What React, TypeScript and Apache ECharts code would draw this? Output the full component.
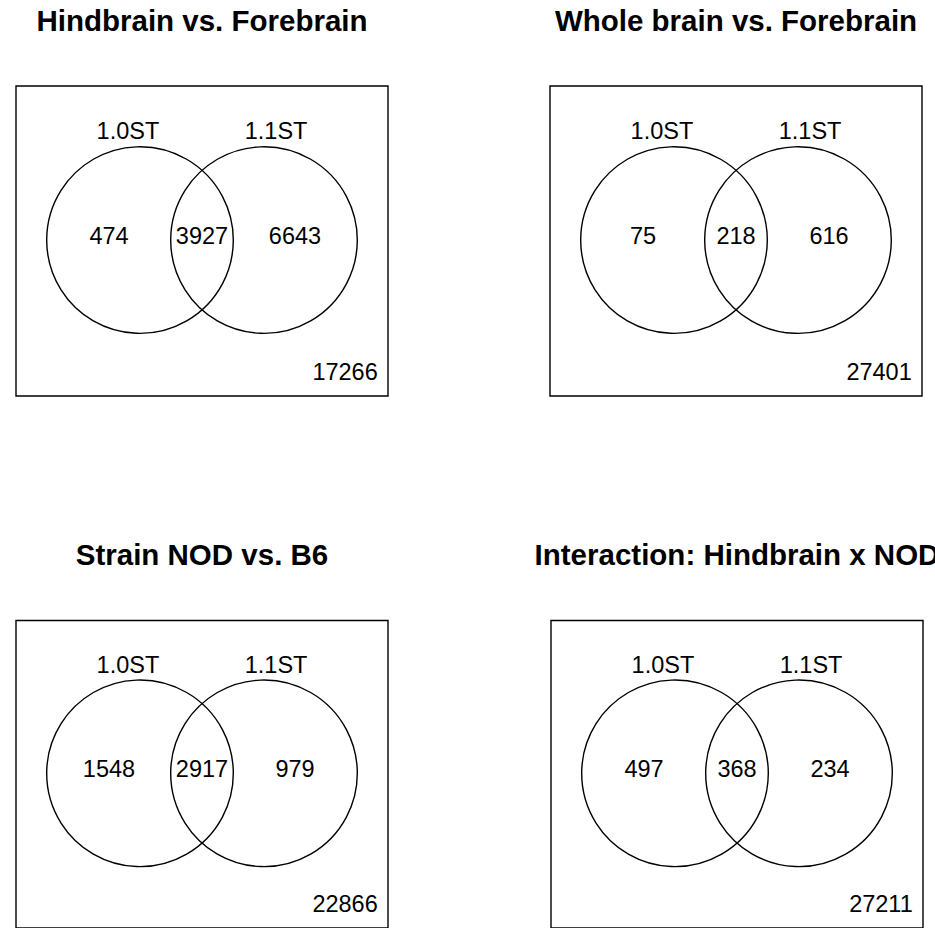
import React, { useEffect, useRef } from "react";
import * as echarts from "echarts";

// ---- Data ----
const titles = [
  "Hindbrain vs. Forebrain",
  "Whole brain vs. Forebrain",
  "Strain NOD vs. B6",
  "Interaction: Hindbrain x NOD",
];
const setNames = ["1.0ST", "1.1ST"];
const only10 = [474, 75, 1548, 497];
const both = [3927, 218, 2917, 368];
const only11 = [6643, 616, 979, 234];
const neither = [17266, 27401, 22866, 27211];

// ---- Layout (venn geometry in panel units: x 0..12, y 0..10) ----
const panelLeft = [16, 550, 16, 551];
const panelTop = [86, 86, 620.5, 620.5];
const panelW = 372;
const panelH = 310;
const circleDefs = [
  [4.0, 5.03, 3.01],
  [8.0, 5.03, 3.01],
];
const setLabelPos = [
  [3.61, 8.55],
  [8.39, 8.55],
];
const countPos = [
  [3.0, 5.16],
  [6.0, 5.16],
  [9.0, 5.16],
  [11.67, 0.78],
];

const FONT = "'Liberation Sans', Arial, Helvetica, sans-serif";

export default function App() {
  const ref = useRef<HTMLDivElement>(null);

  useEffect(() => {
    if (!ref.current) return;
    const chart = echarts.init(ref.current, undefined, { renderer: "svg" });

    const grids: any[] = [];
    const xAxes: any[] = [];
    const yAxes: any[] = [];
    const series: any[] = [];
    const graphics: any[] = [];

    titles.forEach((t, i) => {
      grids.push({
        left: panelLeft[i],
        top: panelTop[i],
        width: panelW,
        height: panelH,
        show: true,
        borderColor: "#000",
        borderWidth: 1.4,
        backgroundColor: "transparent",
        containLabel: false,
      });
      xAxes.push({ type: "value", gridIndex: i, min: 0, max: 12, show: false });
      yAxes.push({ type: "value", gridIndex: i, min: 0, max: 10, show: false });

      graphics.push({
        type: "text",
        x: panelLeft[i] + panelW / 2,
        y: panelTop[i] - 66,
        style: {
          text: t,
          fontSize: 29.5,
          fontWeight: "bold",
          fontFamily: FONT,
          fill: "#000",
          align: "center",
          verticalAlign: "middle",
        },
      });

      series.push({
        type: "custom",
        xAxisIndex: i,
        yAxisIndex: i,
        silent: true,
        data: circleDefs,
        renderItem: (_p: any, api: any) => {
          const c = api.coord([api.value(0), api.value(1)]);
          const r = api.size([api.value(2), 0])[0];
          return {
            type: "circle",
            shape: { cx: c[0], cy: c[1], r },
            style: { fill: "none", stroke: "#000", lineWidth: 1.4 },
          };
        },
      });

      series.push({
        type: "custom",
        xAxisIndex: i,
        yAxisIndex: i,
        silent: true,
        data: setLabelPos.map((p, k) => [p[0], p[1], k]),
        renderItem: (_p: any, api: any) => {
          const c = api.coord([api.value(0), api.value(1)]);
          return {
            type: "text",
            x: c[0],
            y: c[1],
            style: {
              text: setNames[api.value(2)],
              fontSize: 23.5,
              fontFamily: FONT,
              fill: "#000",
              align: "center",
              verticalAlign: "middle",
            },
          };
        },
      });

      const counts = [only10[i], both[i], only11[i], neither[i]];
      series.push({
        type: "custom",
        xAxisIndex: i,
        yAxisIndex: i,
        silent: true,
        data: countPos.map((p, k) => [p[0], p[1], counts[k]]),
        renderItem: (params: any, api: any) => {
          const c = api.coord([api.value(0), api.value(1)]);
          return {
            type: "text",
            x: c[0],
            y: c[1],
            style: {
              text: String(api.value(2)),
              fontSize: 23.5,
              fontFamily: FONT,
              fill: "#000",
              align: params.dataIndex === 3 ? "right" : "center",
              verticalAlign: "middle",
            },
          };
        },
      });
    });

    chart.setOption({
      animation: false,
      backgroundColor: "#fff",
      grid: grids,
      xAxis: xAxes,
      yAxis: yAxes,
      series,
      graphic: graphics,
    });

    return () => chart.dispose();
  }, []);

  return (
    <div
      ref={ref}
      style={{ position: "absolute", left: 0, top: 0, width: 935, height: 928 }}
    />
  );
}
